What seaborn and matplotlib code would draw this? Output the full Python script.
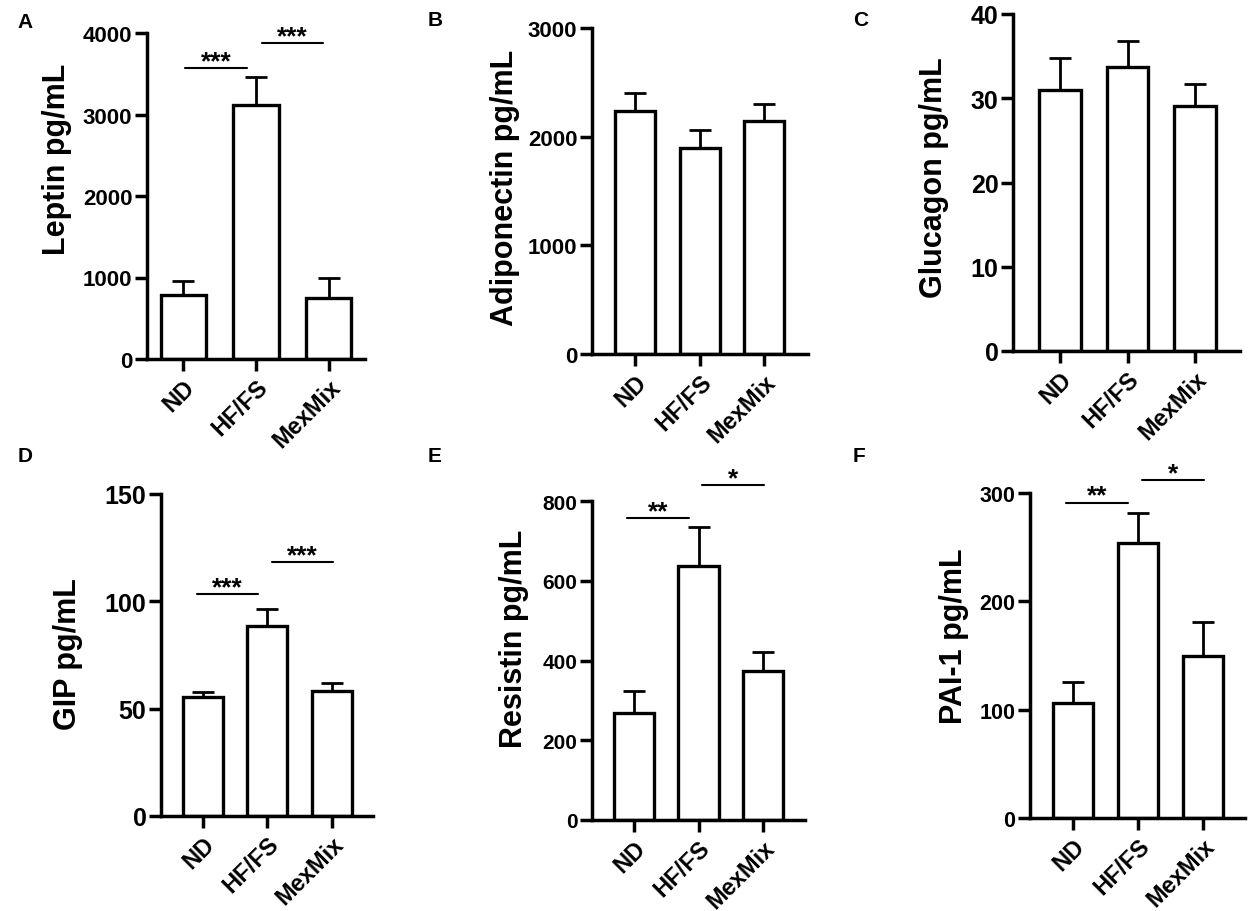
import matplotlib
matplotlib.use("Agg")
import matplotlib.pyplot as plt
import seaborn as sns
import numpy as np

# ---------------- data ----------------
groups = ["ND", "HF/FS", "MexMix"]

leptin_mean = [790, 3120, 750]
leptin_sem = [170, 340, 250]

adiponectin_mean = [2240, 1900, 2145]
adiponectin_sem = [160, 160, 155]

glucagon_mean = [31.0, 33.7, 29.1]
glucagon_sem = [3.8, 3.1, 2.6]

gip_mean = [55.4, 88.5, 58.2]
gip_sem = [2.4, 7.9, 3.8]

resistin_mean = [268, 637, 374]
resistin_sem = [55, 98, 47]

pai1_mean = [106, 254, 149.5]
pai1_sem = [19.5, 27.5, 31.5]

labels = ["Leptin pg/mL", "Adiponectin pg/mL", "Glucagon pg/mL",
          "GIP pg/mL", "Resistin pg/mL", "PAI-1 pg/mL"]
panel_letters = ["A", "B", "C", "D", "E", "F"]
yticks = [[0, 1000, 2000, 3000, 4000], [0, 1000, 2000, 3000], [0, 10, 20, 30, 40],
          [0, 50, 100, 150], [0, 200, 400, 600, 800], [0, 100, 200, 300]]

# significance: (x_start, x_end, y, text)
sig_A = [(0.02, 0.88, 3570, "***"), (1.08, 1.92, 3877, "***")]
sig_D = [(-0.09, 0.85, 103.4, "***"), (1.07, 2.02, 118.3, "***")]
sig_E = [(-0.11, 0.85, 757, "**"), (1.05, 2.02, 840, "*")]
sig_F = [(-0.11, 0.85, 291, "**"), (1.06, 2.02, 312, "*")]

means = [leptin_mean, adiponectin_mean, glucagon_mean, gip_mean, resistin_mean, pai1_mean]
sems = [leptin_sem, adiponectin_sem, glucagon_sem, gip_sem, resistin_sem, pai1_sem]
sigs = [sig_A, [], [], sig_D, sig_E, sig_F]

# ---------------- layout ----------------
W, H = 1248, 912
# (left px, right px, top px, bottom px)
boxes = [(147, 365, 34, 360), (592, 808, 29, 355), (1013, 1240, 15, 352),
         (161, 373, 495, 817), (592, 805, 502, 821), (1030, 1245, 494, 819)]
xlims = [(-0.5, 2.5), (-0.67, 2.68), (-0.70, 2.67), (-0.65, 2.64), (-0.65, 2.65), (-0.66, 2.65)]
ytick_sizes = [16, 16, 18, 18, 15, 15.5]
label_coords = [(-0.413, 0.617), (-0.403, 0.512), (-0.348, 0.516),
                (-0.439, 0.506), (-0.366, 0.571), (-0.353, 0.563)]
letter_pos = [(25, 22), (435, 21), (861, 20), (25, 457), (435, 457), (859, 457)]

sns.set_theme(style="ticks")
plt.rcParams["font.family"] = ["Liberation Sans", "DejaVu Sans"]
plt.rcParams["font.weight"] = "bold"
for k in ["text.color", "axes.labelcolor", "xtick.color", "ytick.color",
          "axes.edgecolor", "xtick.labelcolor", "ytick.labelcolor"]:
    plt.rcParams[k] = "black"

fig = plt.figure(figsize=(W / 100, H / 100), dpi=100)
fig.patch.set_facecolor("white")

for i in range(6):
    l, r, t, b = boxes[i]
    ax = fig.add_axes([l / W, 1 - b / H, (r - l) / W, (b - t) / H])
    ax.set_facecolor("white")
    sns.barplot(x=groups, y=means[i], ax=ax, color="white", saturation=1,
                edgecolor="black", linewidth=2.4, width=0.62, errorbar=None)
    ax.errorbar(np.arange(3), means[i], yerr=[np.zeros(3), sems[i]], fmt="none",
                ecolor="black", elinewidth=2.0, capsize=8, capthick=2.0, zorder=1)
    ax.set_xlim(*xlims[i])
    ax.set_ylim(0, yticks[i][-1])
    ax.set_yticks(yticks[i])
    sns.despine(ax=ax)
    for s in ["left", "bottom"]:
        ax.spines[s].set_linewidth(2.5)
        ax.spines[s].set_color("black")
    ax.tick_params(axis="both", width=2.5, length=8.5, color="black",
                   labelcolor="black")
    ax.tick_params(axis="y", labelsize=ytick_sizes[i], pad=2)
    ax.tick_params(axis="x", labelsize=17, pad=3)
    for lab in ax.get_yticklabels():
        lab.set_fontweight("bold")
    for lab in ax.get_xticklabels():
        lab.set_fontweight("bold")
        lab.set_rotation(45)
        lab.set_ha("right")
        lab.set_va("top")
        lab.set_rotation_mode("anchor")
    ax.set_xlabel("")
    ax.set_ylabel(labels[i], fontsize=22, fontweight="bold", color="black")
    ax.yaxis.set_label_coords(*label_coords[i])
    ax.yaxis.label.set_va("center")
    for (x0, x1, y, txt) in sigs[i]:
        ax.plot([x0, x1], [y, y], color="black", lw=1.5, clip_on=False)
        ax.text((x0 + x1) / 2, y, txt, ha="center", va="baseline", color="black",
                fontsize=19, fontweight="bold", clip_on=False)
    lx, ly = letter_pos[i]
    fig.text(lx / W, 1 - ly / H, panel_letters[i], ha="center", va="center",
             fontsize=15, fontweight="bold", color="black")

fig.savefig("out.png", dpi=100, facecolor="white")
